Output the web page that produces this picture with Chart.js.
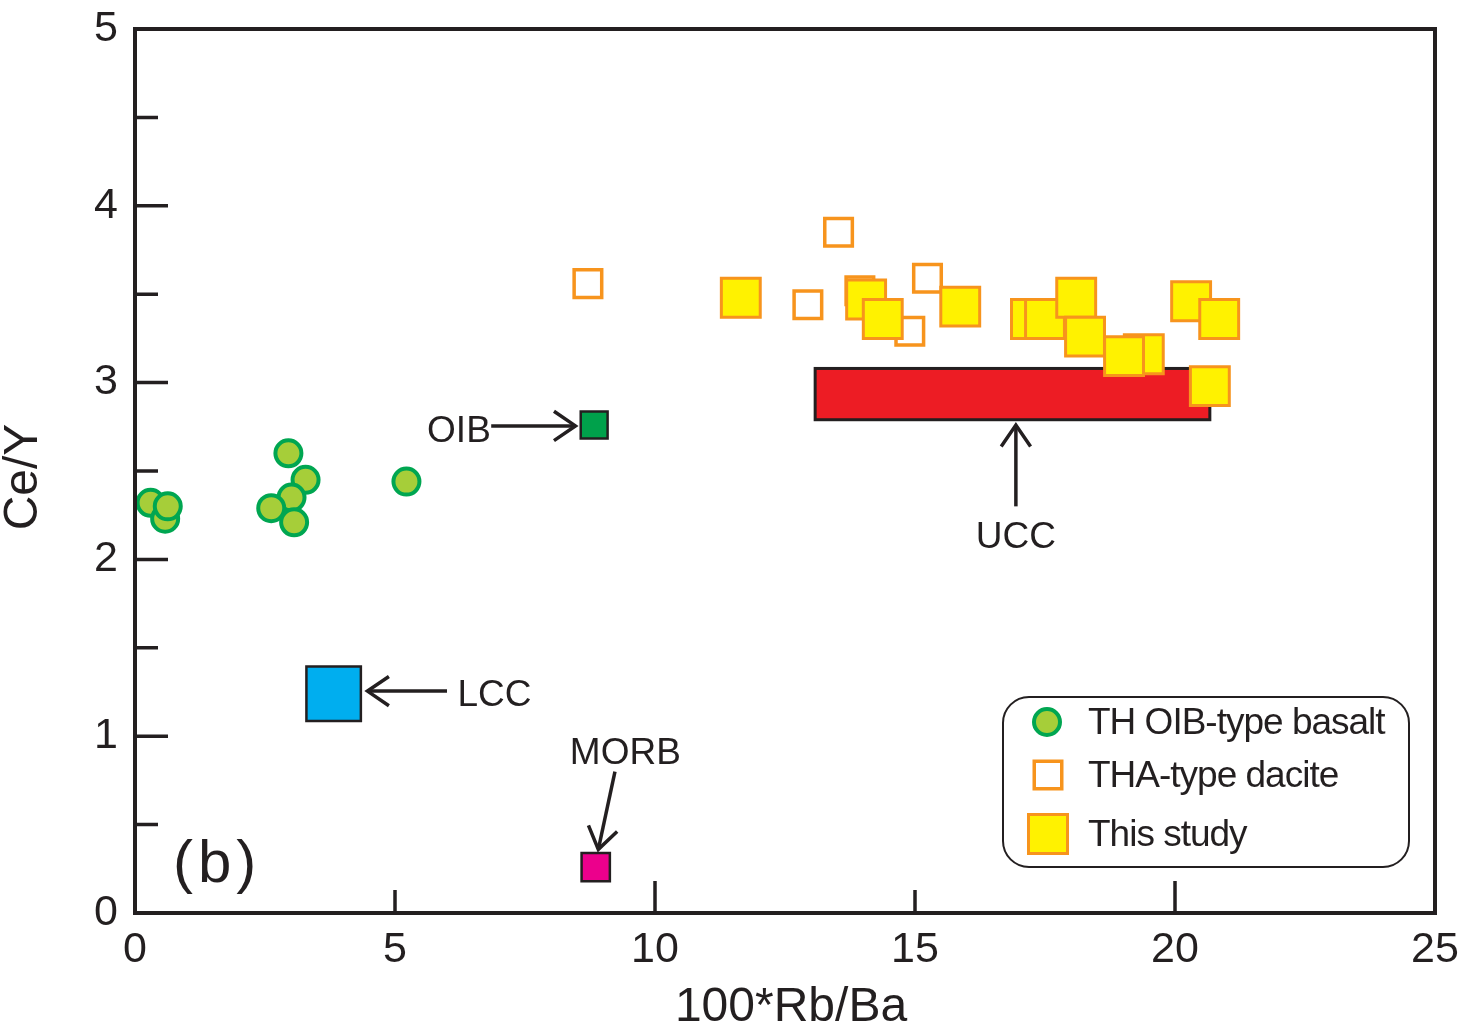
<!DOCTYPE html>
<html>
<head>
<meta charset="utf-8">
<script src="https://cdn.jsdelivr.net/npm/chart.js@4.4.0/dist/chart.umd.min.js"></script>
<style>
  html, body { margin: 0; padding: 0; background: #fff; }
  #c { display: block; }
</style>
</head>
<body>
<canvas id="c" width="1461" height="1029"></canvas>
<script>
// axis ticks
const xTicks = [0, 5, 10, 15, 20, 25];
const yTicks = [0, 1, 2, 3, 4, 5];
const xLongMarks = [10, 20];
const xShortMarks = [5, 15];
const yLongMarks = [1, 2, 3, 4];
const yShortMarks = [0.5, 1.5, 2.5, 3.5, 4.5];

// TH OIB-type basalt
const basaltX = [0.30, 0.58, 0.63, 2.95, 3.28, 3.01, 2.62, 3.06, 5.22];
const basaltY = [2.32, 2.23, 2.30, 2.60, 2.45, 2.35, 2.29, 2.21, 2.44];

// THA-type dacite
const daciteX = [13.53, 8.71, 12.94, 13.94, 15.24, 14.90];
const daciteY = [3.85, 3.56, 3.44, 3.52, 3.59, 3.29];

// This study
const studyX = [11.65, 14.06, 14.38, 15.87, 17.23, 17.50, 18.10, 18.27, 19.40, 19.02, 20.31, 20.85, 20.67];
const studyY = [3.48, 3.47, 3.36, 3.43, 3.36, 3.36, 3.48, 3.26, 3.16, 3.15, 3.46, 3.36, 2.98];

// reference compositions
const oibPoint = [8.83, 2.76];
const lccPoint = [3.82, 1.24];
const morbPoint = [8.86, 0.26];
const uccBoxX = [13.08, 20.67];
const uccBoxY = [2.79, 3.08];

const ink = '#231f20';
const FONT = "'Liberation Sans', Arial, sans-serif";

function pts(xs, ys) {
    return xs.map((x, i) => ({ x: x, y: ys[i] }));
}

function arrow(ctx, x1, y1, x2, y2) {
    ctx.beginPath();
    ctx.moveTo(x1, y1);
    ctx.lineTo(x2, y2);
    ctx.stroke();
    const a = Math.atan2(y2 - y1, x2 - x1), h = 26, w = 0.6;
    ctx.beginPath();
    ctx.moveTo(x2 - h * Math.cos(a - w), y2 - h * Math.sin(a - w));
    ctx.lineTo(x2, y2);
    ctx.lineTo(x2 - h * Math.cos(a + w), y2 - h * Math.sin(a + w));
    ctx.stroke();
}

function label(ctx, txt, x, y, size, align) {
    ctx.font = size + 'px ' + FONT;
    ctx.fillStyle = ink;
    ctx.textAlign = align || 'center';
    ctx.textBaseline = 'middle';
    ctx.fillText(txt, x, y);
}

const uccPlugin = {
    id: 'ucc',
    beforeDatasetsDraw(chart) {
        const ctx = chart.ctx, sx = chart.scales.x, sy = chart.scales.y;
        const x1 = sx.getPixelForValue(uccBoxX[0]), x2 = sx.getPixelForValue(uccBoxX[1]);
        const y1 = sy.getPixelForValue(uccBoxY[1]), y2 = sy.getPixelForValue(uccBoxY[0]);
        ctx.save();
        ctx.fillStyle = '#ed1c24';
        ctx.strokeStyle = ink;
        ctx.lineWidth = 3;
        ctx.fillRect(x1, y1, x2 - x1, y2 - y1);
        ctx.strokeRect(x1, y1, x2 - x1, y2 - y1);
        ctx.restore();
    }
};

const decorPlugin = {
    id: 'decor',
    afterDraw(chart) {
        const ctx = chart.ctx, a = chart.chartArea;
        const sx = chart.scales.x, sy = chart.scales.y;
        const X = v => sx.getPixelForValue(v), Y = v => sy.getPixelForValue(v);
        ctx.save();
        ctx.strokeStyle = ink;
        ctx.lineCap = 'butt';

        // frame
        ctx.lineWidth = 4;
        ctx.strokeRect(a.left, a.top, a.right - a.left, a.bottom - a.top);

        // inward tick marks
        ctx.lineWidth = 3.5;
        ctx.beginPath();
        xLongMarks.forEach(v => { ctx.moveTo(X(v), a.bottom); ctx.lineTo(X(v), a.bottom - 32); });
        xShortMarks.forEach(v => { ctx.moveTo(X(v), a.bottom); ctx.lineTo(X(v), a.bottom - 23); });
        yLongMarks.forEach(v => { ctx.moveTo(a.left, Y(v)); ctx.lineTo(a.left + 33, Y(v)); });
        yShortMarks.forEach(v => { ctx.moveTo(a.left, Y(v)); ctx.lineTo(a.left + 23, Y(v)); });
        ctx.stroke();

        // axis titles
        label(ctx, '100*Rb/Ba', 791, 1008, 48);
        ctx.save();
        ctx.translate(24, (a.top + a.bottom) / 2 + 6);
        ctx.rotate(-Math.PI / 2);
        label(ctx, 'Ce/Y', 0, 0, 48);
        ctx.restore();

        // panel letter
        if ('letterSpacing' in ctx) ctx.letterSpacing = '5px';
        label(ctx, '(b)', X(1.58), Y(0.29) + 4, 60);
        if ('letterSpacing' in ctx) ctx.letterSpacing = '0px';

        // annotations
        ctx.lineWidth = 3.5;
        label(ctx, 'OIB', X(6.23), Y(2.74) + 3, 37);
        arrow(ctx, X(6.85), Y(2.755), X(8.47), Y(2.755));
        label(ctx, 'LCC', X(6.2), Y(1.245) + 3, 37, 'left');
        arrow(ctx, X(6.0), Y(1.255), X(4.47), Y(1.255));
        label(ctx, 'MORB', X(9.43), Y(0.92) + 3, 37);
        arrow(ctx, X(9.23), Y(0.80), X(8.91), Y(0.36));
        label(ctx, 'UCC', X(16.94), Y(2.14) + 3, 37);
        arrow(ctx, X(16.94), Y(2.30), X(16.94), Y(2.76));

        // legend
        const lx = 1003, ly = 697, lw = 406, lh = 170, r = 26;
        ctx.lineWidth = 2;
        ctx.beginPath();
        ctx.roundRect(lx, ly, lw, lh, r);
        ctx.fillStyle = '#fff';
        ctx.fill();
        ctx.stroke();

        const ds = chart.data.datasets;
        const rows = [
            { d: ds[2], y: 722, side: 0 },
            { d: ds[1], y: 775, side: 27.5 },
            { d: ds[0], y: 834, side: 39 }
        ];
        rows.forEach(row => {
            ctx.fillStyle = row.d.backgroundColor;
            ctx.strokeStyle = row.d.borderColor;
            ctx.lineWidth = row.d.borderWidth;
            ctx.beginPath();
            if (row.side === 0) {
                ctx.arc(1047, row.y, 13, 0, Math.PI * 2);
            } else {
                ctx.rect(1048 - row.side / 2, row.y - row.side / 2, row.side, row.side);
            }
            ctx.fill();
            ctx.stroke();
            if ('letterSpacing' in ctx) ctx.letterSpacing = '-1px';
            label(ctx, row.d.label, 1088, row.y + 2, 37, 'left');
            if ('letterSpacing' in ctx) ctx.letterSpacing = '0px';
        });
        ctx.restore();
    }
};

new Chart(document.getElementById('c'), {
    type: 'scatter',
    data: {
        datasets: [
            {
                label: 'This study',
                data: pts(studyX, studyY),
                pointStyle: 'rect',
                pointRadius: 27.5,
                pointHoverRadius: 27.5,
                backgroundColor: '#fff200',
                borderColor: '#f7941d',
                borderWidth: 3,
                order: 2
            },
            {
                label: 'THA-type dacite',
                data: pts(daciteX, daciteY),
                pointStyle: 'rect',
                pointRadius: 19.5,
                pointHoverRadius: 19.5,
                backgroundColor: '#ffffff',
                borderColor: '#f7941d',
                borderWidth: 3.5,
                order: 3
            },
            {
                label: 'TH OIB-type basalt',
                data: pts(basaltX, basaltY),
                pointStyle: 'circle',
                pointRadius: 13,
                pointHoverRadius: 13,
                backgroundColor: '#a6ce39',
                borderColor: '#00a651',
                borderWidth: 4,
                order: 4
            },
            {
                label: 'OIB',
                data: [{ x: oibPoint[0], y: oibPoint[1] }],
                pointStyle: 'rect',
                pointRadius: 19,
                backgroundColor: '#00a14b',
                borderColor: ink,
                borderWidth: 2.5,
                order: 1
            },
            {
                label: 'LCC',
                data: [{ x: lccPoint[0], y: lccPoint[1] }],
                pointStyle: 'rect',
                pointRadius: 38.5,
                backgroundColor: '#00aeef',
                borderColor: ink,
                borderWidth: 2.5,
                order: 1
            },
            {
                label: 'MORB',
                data: [{ x: morbPoint[0], y: morbPoint[1] }],
                pointStyle: 'rect',
                pointRadius: 20,
                backgroundColor: '#ec008c',
                borderColor: ink,
                borderWidth: 2.5,
                order: 1
            }
        ]
    },
    options: {
        responsive: false,
        devicePixelRatio: 1,
        animation: false,
        events: [],
        layout: { autoPadding: false, padding: { top: 29, right: 26, left: 0, bottom: 0 } },
        plugins: {
            legend: { display: false },
            tooltip: { enabled: false }
        },
        scales: {
            x: {
                type: 'linear',
                min: 0,
                max: 25,
                afterBuildTicks: s => { s.ticks = xTicks.map(v => ({ value: v })); },
                afterFit: s => { s.height = 116; s.paddingLeft = 0; s.paddingRight = 0; },
                ticks: { font: { family: FONT, size: 43 }, color: ink, padding: 11, maxRotation: 0, autoSkip: false },
                grid: { display: false, drawTicks: false },
                border: { display: false }
            },
            y: {
                type: 'linear',
                min: 0,
                max: 5,
                afterBuildTicks: s => { s.ticks = yTicks.map(v => ({ value: v })); },
                afterFit: s => { s.width = 135; s.paddingTop = 0; s.paddingBottom = 0; },
                ticks: { font: { family: FONT, size: 43 }, color: ink, padding: 17, autoSkip: false },
                grid: { display: false, drawTicks: false },
                border: { display: false }
            }
        }
    },
    plugins: [uccPlugin, decorPlugin]
});
</script>
</body>
</html>
